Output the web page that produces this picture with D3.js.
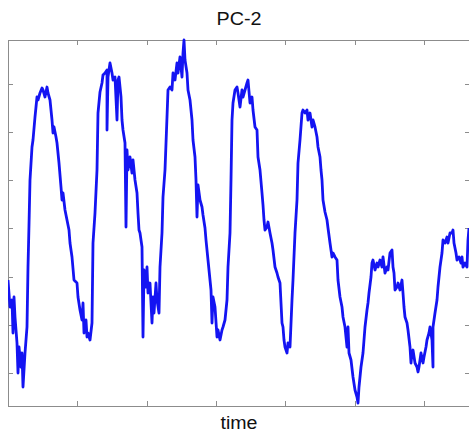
<!DOCTYPE html>
<html>
<head>
<meta charset="utf-8">
<script src="https://cdn.jsdelivr.net/npm/d3@7"></script>
<style>
  body { margin: 0; background: #fff; }
  svg { display: block; }
</style>
</head>
<body>
<figure id="graph" style="margin:0"></figure>
<script>
// samples (arbitrary units, no tick labels shown)
const time = [
  0, 2, 4, 5, 6, 7, 9, 10, 11, 13, 14, 15, 17, 19, 20, 21, 22, 24, 25, 27,
  28, 29, 30, 32, 34, 35, 37, 39, 40, 42, 44, 45, 46, 48, 49, 51, 53, 54, 55, 57,
  59, 61, 62, 64, 66, 69, 70, 72, 74, 75, 76, 78, 79, 80, 82, 84, 85, 87, 89, 90,
  92, 94, 95, 97, 99, 99, 100, 102, 104, 105, 107, 109, 110, 111, 113, 114, 115, 117, 118, 119,
  120, 122, 124, 125, 127, 129, 130, 131, 132, 134, 135, 136, 138, 139, 140, 142, 144, 145, 146, 148,
  149, 151, 152, 154, 155, 157, 159, 160, 162, 164, 165, 167, 169, 170, 172, 174, 175, 176, 177, 179,
  180, 182, 184, 185, 187, 188, 189, 190, 192, 194, 195, 197, 198, 200, 202, 203, 204, 205, 207, 209,
  210, 212, 214, 215, 217, 219, 220, 222, 223, 224, 225, 227, 229, 230, 232, 234, 235, 237, 239, 240,
  242, 244, 245, 247, 249, 250, 252, 254, 255, 256, 257, 259, 260, 262, 264, 265, 267, 269, 270, 272,
  274, 275, 276, 277, 279, 280, 282, 284, 285, 287, 289, 290, 292, 294, 295, 297, 299, 300, 302, 304,
  305, 307, 309, 310, 312, 313, 314, 315, 317, 319, 320, 322, 324, 325, 327, 329, 330, 332, 334, 335,
  337, 339, 340, 341, 343, 345, 347, 349, 350, 351, 353, 355, 356, 357, 359, 360, 361, 363, 364, 365,
  367, 369, 370, 372, 374, 375, 377, 379, 380, 382, 384, 385, 386, 387, 389, 390, 392, 394, 395, 396,
  397, 399, 400, 402, 403, 404, 405, 407, 409, 410, 411, 413, 415, 416, 418, 419, 421, 422, 424, 425,
  425, 427, 429, 430, 432, 434, 435, 437, 439, 440, 442, 444, 445, 446, 448, 449, 451, 453, 454, 455,
  457, 459, 460, 461
];
const pc2 = [
  126, 99, 106, 73, 109, 89, 63, 33, 59, 39, 53, 19, 53, 79, 139, 181, 226, 259, 266, 289,
  299, 309, 306, 313, 318, 316, 309, 319, 313, 306, 286, 273, 279, 269, 263, 243, 219, 206, 213, 196,
  186, 176, 163, 149, 126, 123, 109, 96, 86, 103, 73, 86, 69, 73, 66, 83, 163, 193, 236, 293,
  314, 323, 331, 333, 336, 276, 329, 343, 333, 326, 329, 286, 326, 329, 309, 286, 276, 263, 179, 256,
  236, 249, 233, 246, 226, 213, 193, 176, 173, 159, 69, 136, 119, 139, 113, 123, 83, 109, 93, 123,
  106, 93, 139, 173, 209, 236, 289, 316, 319, 316, 333, 326, 343, 333, 349, 329, 353, 366, 346, 333,
  316, 306, 286, 266, 249, 226, 189, 221, 206, 199, 191, 178, 166, 146, 126, 116, 83, 109, 99, 69,
  76, 66, 76, 79, 86, 106, 139, 173, 226, 286, 303, 316, 319, 313, 299, 316, 309, 316, 323, 326,
  303, 309, 296, 279, 276, 249, 236, 213, 201, 186, 176, 179, 184, 173, 163, 156, 139, 133, 129, 123,
  83, 79, 66, 59, 53, 63, 59, 106, 126, 173, 206, 243, 266, 293, 296, 293, 296, 286, 293, 279,
  286, 279, 269, 259, 249, 236, 226, 206, 194, 186, 178, 163, 149, 153, 149, 146, 126, 109, 99, 89,
  79, 59, 79, 53, 46, 29, 16, 9, 3, 19, 39, 53, 66, 79, 96, 103, 113, 129, 143, 146,
  136, 143, 139, 146, 139, 149, 133, 139, 136, 153, 156, 139, 133, 116, 119, 123, 116, 126, 113, 99,
  89, 83, 76, 59, 43, 53, 56, 43, 39, 34, 39, 53, 43, 49, 59, 66, 73, 79, 66, 39,
  79, 93, 106, 119, 139, 153, 166, 163, 169, 163, 173, 173, 176, 163, 153, 146, 149, 143, 149, 139,
  143, 139, 166, 178
];
const xTicks = [69, 139, 208, 277, 347, 416];
const yTicks = [33, 81, 129, 178, 226, 274, 322];
const title = "PC-2";
const xLabel = "time";

const W = 469, H = 433;
const mLeft = 8, mRight = 470, mTop = 40, mBottom = 406;

const svg = d3.select("figure#graph")
  .append("svg")
  .attr("width", W)
  .attr("height", H);

const x = d3.scaleLinear().domain([0, 462]).range([mLeft, mRight]);
const y = d3.scaleLinear().domain([0, 366]).range([mBottom, mTop]);

const axisColor = "#8c8c8c";

// ticks on all four sides, pointing inwards
const styleAxis = g => {
  g.select(".domain").remove();
  g.selectAll(".tick line").attr("stroke", axisColor);
  g.selectAll(".tick text").remove();
};
svg.append("g")
  .attr("transform", "translate(0," + mBottom + ")")
  .call(d3.axisTop(x).tickValues(xTicks).tickSize(5))
  .call(styleAxis);
svg.append("g")
  .attr("transform", "translate(0," + mTop + ")")
  .call(d3.axisBottom(x).tickValues(xTicks).tickSize(5))
  .call(styleAxis);
svg.append("g")
  .attr("transform", "translate(" + mLeft + ",0)")
  .call(d3.axisRight(y).tickValues(yTicks).tickSize(5))
  .call(styleAxis);
svg.append("g")
  .attr("transform", "translate(" + mRight + ",0)")
  .call(d3.axisLeft(y).tickValues(yTicks).tickSize(5))
  .call(styleAxis);

// box
svg.append("rect")
  .attr("x", mLeft + 0.5)
  .attr("y", mTop + 0.5)
  .attr("width", mRight - mLeft)
  .attr("height", mBottom - mTop)
  .attr("fill", "none")
  .attr("stroke", axisColor);

svg.append("clipPath").attr("id", "clip")
  .append("rect")
  .attr("x", mLeft).attr("y", mTop - 2)
  .attr("width", mRight - mLeft).attr("height", mBottom - mTop + 4);

const line = d3.line()
  .x((d, i) => x(time[i]))
  .y(d => y(d));

svg.append("path")
  .datum(pc2)
  .attr("clip-path", "url(#clip)")
  .attr("fill", "none")
  .attr("stroke", "#1414f2")
  .attr("stroke-width", 2.8)
  .attr("stroke-linejoin", "round")
  .attr("d", line);

// text in the picture is a little wider than plain Arial
svg.append("text")
  .attr("x", (mLeft + mRight) / 2)
  .attr("y", 25)
  .attr("text-anchor", "middle")
  .attr("font-family", "Liberation Sans, Arial, sans-serif")
  .attr("font-size", 17.5)
  .attr("fill", "#111")
  .attr("textLength", 45)
  .attr("lengthAdjust", "spacingAndGlyphs")
  .text(title);

svg.append("text")
  .attr("x", (mLeft + mRight) / 2)
  .attr("y", 429)
  .attr("text-anchor", "middle")
  .attr("font-family", "Liberation Sans, Arial, sans-serif")
  .attr("font-size", 17.5)
  .attr("fill", "#111")
  .attr("textLength", 37)
  .attr("lengthAdjust", "spacingAndGlyphs")
  .text(xLabel);
</script>
</body>
</html>
